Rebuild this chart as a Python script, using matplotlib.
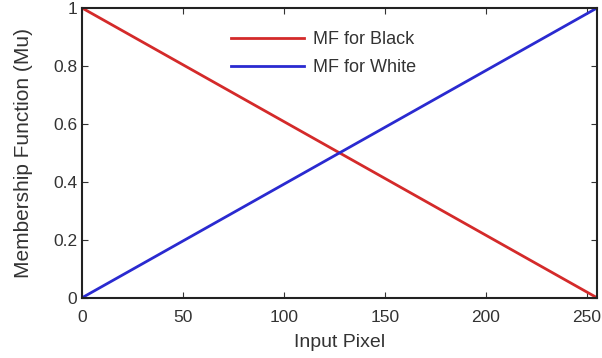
import matplotlib
matplotlib.use("Agg")
import matplotlib.pyplot as plt

plt.rcParams['font.family'] = ['Liberation Sans', 'DejaVu Sans']

pixel = [0, 255]
mf_black = [1, 0]
mf_white = [0, 1]
xticks = [0, 50, 100, 150, 200, 250]
yticks = [0, 0.2, 0.4, 0.6, 0.8, 1]

fig = plt.figure(figsize=(6.02, 3.58), dpi=100)
ax = fig.add_axes([0.136, 0.168, 0.856, 0.810])

ax.plot(pixel, mf_black, color='#d42a2a', lw=2, label='MF for Black')
ax.plot(pixel, mf_white, color='#2a2ad0', lw=2, label='MF for White')

ax.set_xlim(0, 255)
ax.set_ylim(0, 1)
ax.set_xticks(xticks)
ax.set_yticks(yticks)
ax.set_yticklabels(['0', '0.2', '0.4', '0.6', '0.8', '1'])
ax.tick_params(direction='in', top=True, right=True, labelsize=12.5, length=4, colors='#333333')
ax.tick_params(axis='x', pad=9)
for s in ax.spines.values():
    s.set_linewidth(1.5)
    s.set_color('#222222')

ax.set_xlabel('Input Pixel', fontsize=14, color='#333333', labelpad=6)
ax.set_ylabel('Membership Function (Mu)', fontsize=15, color='#333333', labelpad=14)
ax.legend(loc='upper left', bbox_to_anchor=(0.29, 0.92), borderaxespad=0, borderpad=0,
          frameon=False, fontsize=13, handlelength=4, handletextpad=0.5,
          labelspacing=0.6, labelcolor='#333333')

fig.savefig('out.png', dpi=100)
